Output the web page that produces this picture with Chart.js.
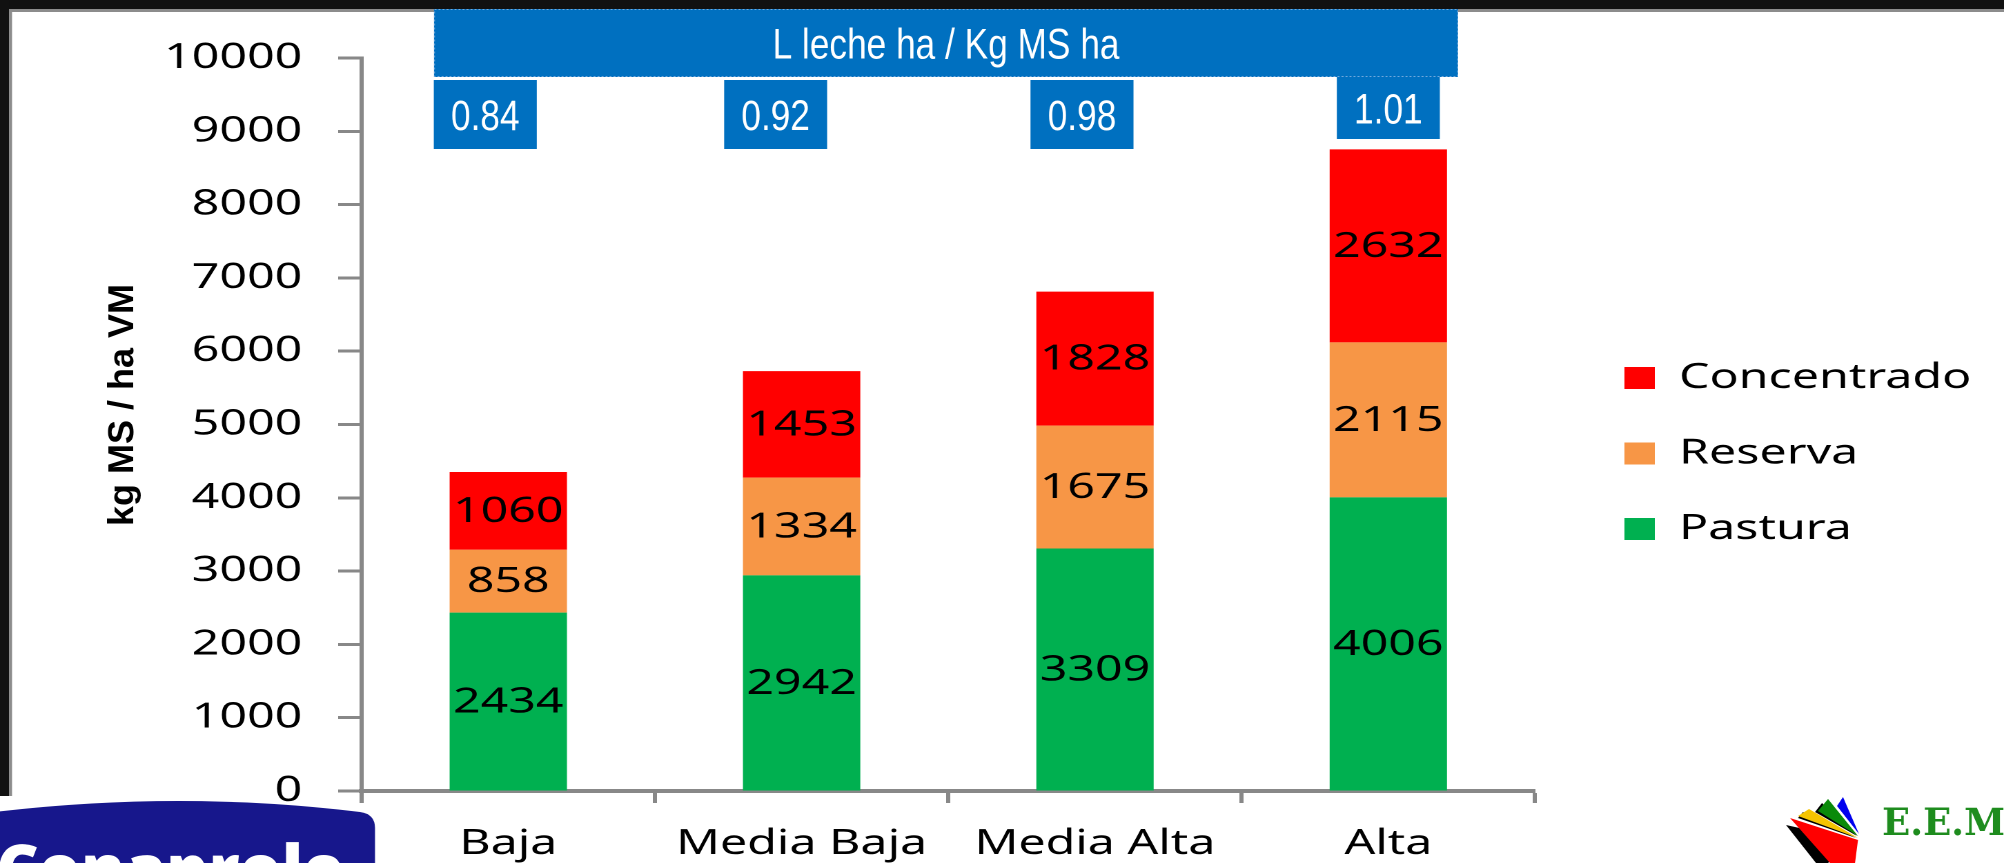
<!DOCTYPE html>
<html>
<head>
<meta charset="utf-8">
<script src="https://cdn.jsdelivr.net/npm/chart.js@4.4.0/dist/chart.umd.min.js"></script>
<style>
  html, body { margin: 0; padding: 0; background: #fff; overflow: hidden; }
</style>
</head>
<body>
<canvas id="chart" width="1452" height="863" style="width:2004px;height:863px"></canvas>
<script>
// values
const categories = ['Baja', 'Media Baja', 'Media Alta', 'Alta'];
const pastura = [2434, 2942, 3309, 4006];
const reserva = [858, 1334, 1675, 2115];
const concentrado = [1060, 1453, 1828, 2632];
const ratioTitle = 'L leche ha / Kg MS ha';
const ratios = ['0.84', '0.92', '0.98', '1.01'];
const yTitle = 'kg MS / ha VM';
const yMin = 0, yMax = 10000, yStep = 1000;

// the chart on the slide was stretched sideways, so draw narrow and let css widen it
const SX = 2004 / 1452;

Chart.defaults.font.family = "'Noto Sans', sans-serif";
Chart.defaults.color = '#000';

// white narrow text (arial narrow look), centred on x,y
function narrowText(ctx, txt, x, y, size) {
  ctx.save();
  ctx.translate(x, y);
  ctx.scale(0.82, 1);
  ctx.font = size + "px 'Liberation Sans', Arial, sans-serif";
  ctx.fillStyle = '#fff';
  ctx.textAlign = 'center';
  ctx.textBaseline = 'alphabetic';
  ctx.fillText(txt, 0, size * 0.358);
  ctx.restore();
}

const slide = {
  id: 'slide',
  beforeDraw(chart) {
    const ctx = chart.ctx;
    ctx.save();
    ctx.scale(1 / SX, 1);
    ctx.fillStyle = '#fff';
    ctx.fillRect(0, 0, 2004, 863);
    ctx.fillStyle = '#111';
    ctx.fillRect(0, 0, 2004, 9);
    ctx.fillRect(0, 0, 9, 796);
    ctx.fillStyle = '#8c8c8c';
    ctx.fillRect(9, 9, 1995, 3);
    ctx.fillRect(9, 9, 3, 787);
    ctx.restore();
  },
  afterLayout(chart) {
    // legend sits further from the plot (and a bit higher) than chart.js puts it
    const lg = chart.legend;
    const dx = 1177 - (lg.left + lg.options.labels.padding);
    lg.left += dx;
    lg.right += dx;
    lg.top -= 7;
    lg.bottom -= 7;
  },
  afterDatasetsDraw(chart) {
    const ctx = chart.ctx;
    ctx.save();
    ctx.font = "35px 'Noto Sans', sans-serif";
    ctx.fillStyle = '#000';
    ctx.textAlign = 'center';
    ctx.textBaseline = 'middle';
    chart.data.datasets.forEach((ds, di) => {
      chart.getDatasetMeta(di).data.forEach((bar, i) => {
        const p = bar.getProps(['x', 'y', 'base'], true);
        ctx.fillText(String(ds.data[i]), p.x, (p.y + p.base) / 2 + 1);
      });
    });
    ctx.restore();
  },
  afterDraw(chart) {
    const ctx = chart.ctx;
    const xs = chart.getDatasetMeta(0).data.map(b => b.x * SX);
    ctx.save();
    ctx.scale(1 / SX, 1);

    // ratio banner + boxes
    ctx.fillStyle = '#0070C0';
    ctx.fillRect(434, 9, 1024, 68);
    ctx.strokeStyle = '#6fa8dc';
    ctx.lineWidth = 1;
    ctx.setLineDash([2, 2]);
    ctx.strokeRect(434.5, 9.5, 1023, 67);
    ctx.setLineDash([]);
    narrowText(ctx, ratioTitle, 946, 43, 43);
    const shift = [-23, -26, -13, 0];
    ratios.forEach((r, i) => {
      const top = i === 3 ? 77 : 80;
      const h = i === 3 ? 62 : 69;
      const cx = xs[i] + shift[i];
      ctx.fillStyle = '#0070C0';
      ctx.fillRect(cx - 51.5, top, 103, h);
      narrowText(ctx, r, cx, top + h / 2, 43);
    });

    // y title
    ctx.save();
    ctx.translate(133, 405);
    ctx.rotate(-Math.PI / 2);
    ctx.font = "bold 36px 'Liberation Sans', Arial, sans-serif";
    ctx.fillStyle = '#000';
    ctx.textAlign = 'center';
    ctx.textBaseline = 'alphabetic';
    ctx.fillText(yTitle, 0, 0);
    ctx.restore();

    // conaprole logo, bottom left
    ctx.fillStyle = '#17178c';
    ctx.beginPath();
    ctx.moveTo(-5, 812);
    ctx.quadraticCurveTo(180, 790, 360, 812);
    ctx.quadraticCurveTo(375, 814, 375, 828);
    ctx.lineTo(375, 870);
    ctx.lineTo(-5, 870);
    ctx.closePath();
    ctx.fill();
    ctx.fillStyle = '#fff';
    ctx.font = "800 66px 'Open Sans', sans-serif";
    ctx.textAlign = 'left';
    ctx.textBaseline = 'alphabetic';
    ctx.fillText('Conaprole', -4, 892);

    // E.E.M. logo, bottom right
    const poly = (col, pts) => {
      ctx.fillStyle = col;
      ctx.beginPath();
      pts.forEach((p, k) => k ? ctx.lineTo(p[0], p[1]) : ctx.moveTo(p[0], p[1]));
      ctx.closePath();
      ctx.fill();
    };
    poly('#000', [[1786, 825], [1853, 840], [1828, 863], [1816, 863]]);
    poly('#000', [[1803, 812], [1856, 838], [1798, 818]]);
    poly('#000', [[1822, 803], [1857, 836], [1815, 812]]);
    poly('#f00', [[1790, 818], [1858, 840], [1855, 863], [1830, 863]]);
    poly('#f5c400', [[1809, 809], [1858, 838], [1798, 816]]);
    poly('#0a8a0a', [[1828, 799], [1858, 836], [1818, 811]]);
    poly('#0000ee', [[1843, 797], [1859, 834], [1837, 806]]);
    ctx.fillStyle = '#1e8c1e';
    ctx.font = "bold 37px 'DejaVu Serif', serif";
    ctx.fillText('E.E.M.', 1882, 835);

    ctx.restore();
  }
};

new Chart(document.getElementById('chart'), {
  type: 'bar',
  data: {
    labels: categories,
    datasets: [
      { label: 'Pastura', data: pastura, backgroundColor: '#00B050', borderWidth: 0 },
      { label: 'Reserva', data: reserva, backgroundColor: '#F79646', borderWidth: 0 },
      { label: 'Concentrado', data: concentrado, backgroundColor: '#FF0000', borderWidth: 0 }
    ]
  },
  options: {
    responsive: false,
    devicePixelRatio: 2,
    animation: false,
    events: [],
    barPercentage: 0.4,
    categoryPercentage: 1,
    layout: { padding: { top: 58, right: 38, bottom: 0, left: 0 } },
    scales: {
      x: {
        stacked: true,
        afterFit: (s) => { s.height = 72; },
        grid: { offset: true, drawOnChartArea: false, tickLength: 12, tickWidth: 3, tickColor: '#888' },
        border: { color: '#888', width: 4 },
        ticks: { font: { size: 35 }, color: '#000', padding: 20, maxRotation: 0 }
      },
      y: {
        stacked: true,
        min: yMin,
        max: yMax,
        afterFit: (s) => { s.width = 262; },
        grid: { drawOnChartArea: false, tickLength: 17, tickWidth: 3, tickColor: '#888' },
        border: { color: '#888', width: 3 },
        ticks: { stepSize: yStep, font: { size: 35 }, color: '#000', padding: 26, callback: (v) => String(v) }
      }
    },
    plugins: {
      tooltip: { enabled: false },
      legend: {
        position: 'right',
        reverse: true,
        labels: { font: { size: 35 }, color: '#000', boxWidth: 22, boxHeight: 22, padding: 40.5 }
      }
    }
  },
  plugins: [slide]
});
</script>
</body>
</html>
